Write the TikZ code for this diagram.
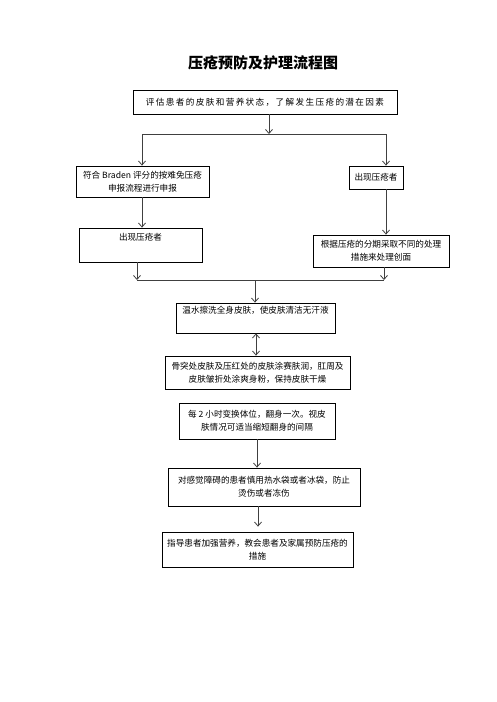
\documentclass[tikz,border=0pt]{standalone}
\usepackage{fontspec}
\setmainfont{Noto Sans CJK SC}
\newfontfamily\spaced[LetterSpace=16]{Noto Sans CJK SC}
\usepackage{tikz}
\usetikzlibrary{arrows.meta}

\tikzset{
  box/.style={draw, line width=0.8pt, inner sep=0pt, align=center, font=\fontsize{8.6}{13}\selectfont},
  arr/.style={-{Straight Barb[length=4pt,width=7pt]}, line width=0.8pt, black!75},
  line/.style={line width=0.8pt, black!75}
}

\begin{document}
\begin{tikzpicture}[x=1pt,y=-1pt]
            \useasboundingbox (0,0) rectangle (496,702);
            % title
            \node[font=\fontsize{15}{17}\selectfont\bfseries] (title) at (263,63) {压疮预防及护理流程图};
            % boxes
            \node[box, minimum width=264pt, minimum height=24pt, font=\fontsize{8.6}{13}\spaced] (eval) at (265,102) {评估患者的皮肤和营养状态，了解发生压疮的潜在因素};
            \node[box, minimum width=133pt, minimum height=31pt] (braden) at (142.5,181.5) {符合 Braden 评分的按难免压疮\\申报流程进行申报};
            \node[box, minimum width=54pt, minimum height=23pt] (found) at (376,177.5) {出现压疮者};
            \node[box, minimum width=123pt, minimum height=34pt] (sore) at (140.5,245) {出现压疮者\\\strut};
            \node[box, minimum width=136pt, minimum height=32pt] (treat) at (381,251) {根据压疮的分期采取不同的处理\\措施来处理创面};
            \node[box, minimum width=159pt, minimum height=30pt] (wash) at (255.5,318) {温水擦洗全身皮肤，使皮肤清洁无汗液\\\strut};
            \node[box, minimum width=185pt, minimum height=33pt] (bone) at (257.5,372.5) {骨突处皮肤及压红处的皮肤涂赛肤润，肛周及\\皮肤皱折处涂爽身粉，保持皮肤干燥};
            \node[box, minimum width=156pt, minimum height=36pt] (turn) at (257,421) {每 2 小时变换体位，翻身一次。视皮\\肤情况可适当缩短翻身的间隔};
            \node[box, minimum width=192pt, minimum height=38pt] (heat) at (264,487) {对感觉障碍的患者慎用热水袋或者冰袋，防止\\烫伤或者冻伤};
            \node[box, minimum width=191pt, minimum height=35pt] (guide) at (257.5,549.5) {指导患者加强营养，教会患者及家属预防压疮的\\措施};
            % split points
            \coordinate (s1) at (269,134);
            \coordinate (s1l) at (142,134);
            \coordinate (s1r) at (386,134);
            \coordinate (s2) at (255,280);
            \coordinate (s2l) at (137,280);
            \coordinate (s2r) at (384,280);
            \coordinate (c1) at (256,0);
            \coordinate (c2) at (257,0);
            \coordinate (c3) at (258,0);
            % connectors
            \draw[arr] (s1 |- eval.south) -- (s1);
            \draw[line] (s1l) -- (s1r);
            \draw[arr] (s1l) -- (s1l |- braden.north);
            \draw[arr] (s1r) -- (s1r |- found.north);
            \draw[arr] (s1l |- braden.south) -- (s1l |- sore.north);
            \draw[arr] (s1r |- found.south) -- (s1r |- treat.north);
            \draw[arr] (s2l |- sore.south) -- (s2l);
            \draw[arr] (s2r |- treat.south) -- (s2r);
            \draw[line] (s2l) -- (s2r);
            \draw[arr] (s2) -- (s2 |- wash.north);
            \draw[arr, {Straight Barb[length=4pt,width=7pt]}-{Straight Barb[length=4pt,width=7pt]}] (c1 |- wash.south) -- (c1 |- bone.north);
            \draw[arr] (c2 |- turn.south) -- (c2 |- heat.north);
            \draw[arr] (c3 |- heat.south) -- ([yshift=5pt]c3 |- guide.north);
        \end{tikzpicture}
\end{document}
